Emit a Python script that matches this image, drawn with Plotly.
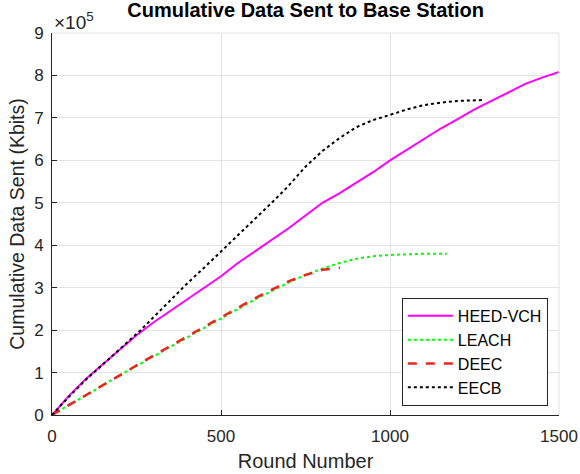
import plotly.graph_objects as go

# Data (values in units of 1e5 Kbits)
heed_rounds = [0, 50, 100, 150, 200, 250, 300, 350, 400, 450, 500, 550, 600, 650, 700, 750, 800,
               850, 900, 950, 1000, 1050, 1100, 1150, 1200, 1250, 1300, 1350, 1400, 1450, 1500]
heed_vals = [0, 0.45, 0.85, 1.2, 1.55, 1.88, 2.18, 2.45, 2.72, 3.0, 3.27, 3.58, 3.85, 4.12, 4.4, 4.7, 5.0,
             5.22, 5.46, 5.72, 6.0, 6.25, 6.5, 6.75, 6.97, 7.2, 7.4, 7.6, 7.8, 7.95, 8.08]

leach_rounds = [0, 100, 200, 300, 400, 500, 600, 700, 750, 800, 850, 900, 950, 1000, 1050, 1100, 1168]
leach_vals = [0, 0.47, 0.93, 1.38, 1.83, 2.28, 2.72, 3.12, 3.3, 3.45, 3.58, 3.68, 3.74, 3.77, 3.79, 3.8, 3.8]

deec_rounds = [0, 100, 200, 300, 400, 500, 600, 700, 750, 800, 852]
deec_vals = [0, 0.47, 0.94, 1.4, 1.85, 2.3, 2.75, 3.15, 3.3, 3.42, 3.47]

eecb_rounds = [0, 50, 100, 150, 200, 260, 300, 350, 400, 450, 500, 550, 600, 650, 700, 750, 800,
               850, 900, 950, 1000, 1050, 1100, 1150, 1200, 1275]
eecb_vals = [0, 0.43, 0.83, 1.2, 1.55, 1.98, 2.3, 2.7, 3.1, 3.47, 3.85, 4.22, 4.6, 5.0, 5.4, 5.85, 6.22,
             6.52, 6.78, 6.95, 7.07, 7.2, 7.3, 7.36, 7.4, 7.42]

y_ticks = [0, 1, 2, 3, 4, 5, 6, 7, 8, 9]
x_ticks = [0, 500, 1000, 1500]

scale = 1e5
font_family = "Liberation Sans, Arial, sans-serif"

fig = go.Figure()
fig.add_trace(go.Scatter(x=heed_rounds, y=[v * scale for v in heed_vals], mode="lines",
                         name="HEED-VCH", line=dict(color="#ff00ff", width=2)))
fig.add_trace(go.Scatter(x=leach_rounds, y=[v * scale for v in leach_vals], mode="lines",
                         name="LEACH", line=dict(color="#00ff00", width=2, dash="dot")))
fig.add_trace(go.Scatter(x=deec_rounds, y=[v * scale for v in deec_vals], mode="lines",
                         name="DEEC", line=dict(color="#e8271f", width=2.5, dash="dash")))
fig.add_trace(go.Scatter(x=eecb_rounds, y=[v * scale for v in eecb_vals], mode="lines",
                         name="EECB", line=dict(color="#000000", width=2, dash="dot")))

fig.update_layout(
    width=580, height=474,
    margin=dict(l=52, r=21, t=33, b=59, autoexpand=False),
    paper_bgcolor="white", plot_bgcolor="white",
    font=dict(family=font_family, size=17, color="#262626"),
    title=dict(text="<b>Cumulative Data Sent to Base Station</b>", x=0.527, xanchor="center",
               y=0.993, yanchor="top", font=dict(size=20, color="black")),
    showlegend=True,
    legend=dict(x=0.978, y=0.165, xanchor="right", yanchor="middle",
                bgcolor="white", bordercolor="#262626", borderwidth=1,
                font=dict(size=16, color="#000000"), itemwidth=45,
                tracegroupgap=0),
)
fig.update_xaxes(range=[0, 1500], tickvals=x_ticks, ticktext=[str(t) for t in x_ticks],
                 showgrid=True, gridcolor="#e3e3e3", gridwidth=1,
                 showline=True, linecolor="#262626", linewidth=1,
                 ticks="inside", ticklen=5, tickcolor="#262626",
                 zeroline=False, mirror=False, automargin=False,
                 tickfont=dict(size=17), ticklabelstandoff=6,
                 title=dict(text="Round Number", font=dict(size=20), standoff=8))
fig.update_yaxes(range=[0, 9 * scale], tickvals=[t * scale for t in y_ticks],
                 ticktext=[str(t) for t in y_ticks],
                 showgrid=True, gridcolor="#e3e3e3", gridwidth=1,
                 showline=True, linecolor="#262626", linewidth=1,
                 ticks="inside", ticklen=5, tickcolor="#262626",
                 zeroline=False, automargin=False,
                 tickfont=dict(size=17), ticklabelstandoff=4,
                 title=dict(text="Cumulative Data Sent (Kbits)", font=dict(size=19.5), standoff=4))
# right and top light box edges
fig.add_shape(type="line", xref="paper", yref="paper", x0=1, x1=1, y0=0, y1=1,
              line=dict(color="#e3e3e3", width=1))
fig.add_shape(type="line", xref="paper", yref="paper", x0=0, x1=1, y0=1, y1=1,
              line=dict(color="#e3e3e3", width=1))
fig.add_annotation(text="×10<sup>5</sup>", xref="paper", yref="paper", x=0.0, y=1.0,
                   xanchor="left", yanchor="bottom", showarrow=False,
                   font=dict(size=19, color="#262626"), yshift=-2)

fig.write_html("out.html", config={"displayModeBar": False},
               post_script="document.body.style.margin='0';")
